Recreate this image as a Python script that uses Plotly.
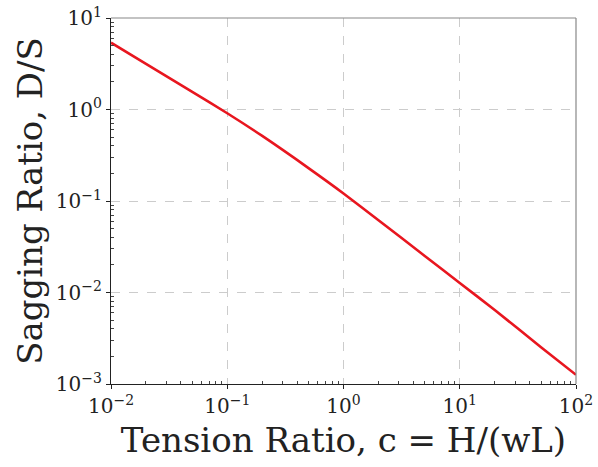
import plotly.graph_objects as go

# Values (log-log)
tension_ratio = [0.01, 0.02, 0.05, 0.1, 0.2, 0.5, 1, 2, 5, 10, 20, 50, 100]
sagging_ratio = [5.37, 3.15, 1.56, 0.91, 0.514, 0.229, 0.121, 0.0617, 0.0251, 0.0127, 0.00645, 0.00252, 0.00126]

x_tick_vals = [0.01, 0.1, 1, 10, 100]
x_tick_text = ["10<sup>−2</sup>", "10<sup>−1</sup>", "10<sup>0</sup>", "10<sup>1</sup>", "10<sup>2</sup>"]
y_tick_vals = [0.001, 0.01, 0.1, 1, 10]
y_tick_text = ["10<sup>−3</sup>", "10<sup>−2</sup>", "10<sup>−1</sup>", "10<sup>0</sup>", "10<sup>1</sup>"]

FONT = "DejaVu Serif, Liberation Serif, serif"


def minor_positions(decades):
    return [m * d for d in decades[:-1] for m in range(2, 10)]


fig = go.Figure()
fig.add_trace(go.Scatter(
    x=tension_ratio, y=sagging_ratio, mode="lines",
    line=dict(color="#e8161f", width=2.6, shape="spline", smoothing=0.6),
    showlegend=False, hoverinfo="skip",
))

axis_common = dict(
    type="log", automargin=False,
    showline=True, linecolor="#222", linewidth=1.2, mirror=False,
    showgrid=True, gridcolor="#cccccc", griddash="dash", gridwidth=1,
    zeroline=False,
    ticks="outside", ticklen=4, tickcolor="#222", tickwidth=1,
    tickfont=dict(family=FONT, size=20, color="#222"),
)

fig.update_xaxes(
    range=[-2, 2], tickvals=x_tick_vals, ticktext=x_tick_text,
    minor=dict(ticks="inside", ticklen=3, tickcolor="#444", tickwidth=0.8, showgrid=False,
               tickvals=minor_positions(x_tick_vals)),
    title=dict(text="Tension Ratio, c = H/(wL)", font=dict(family=FONT, size=34, color="#222"), standoff=11),
    **axis_common,
)
fig.update_yaxes(
    range=[-3, 1], tickvals=y_tick_vals, ticktext=y_tick_text,
    minor=dict(ticks="inside", ticklen=3, tickcolor="#444", tickwidth=0.8, showgrid=False,
               tickvals=minor_positions(y_tick_vals)),
    title=dict(text="Sagging Ratio, D/S", font=dict(family=FONT, size=34, color="#222"), standoff=2),
    **axis_common,
)

# top and right frame lines (gray)
fig.add_shape(type="line", xref="paper", yref="paper", x0=0, x1=1, y0=1, y1=1,
              line=dict(color="#888", width=1.2))
fig.add_shape(type="line", xref="paper", yref="paper", x0=1, x1=1, y0=0, y1=1,
              line=dict(color="#888", width=1.2))

fig.update_layout(
    width=598, height=467,
    margin=dict(l=111, r=22, t=18, b=83),
    paper_bgcolor="white", plot_bgcolor="white",
    font=dict(family=FONT, color="#222"),
)

fig.write_html("out.html", config={"displayModeBar": False},
               post_script="document.body.style.margin='0';")
